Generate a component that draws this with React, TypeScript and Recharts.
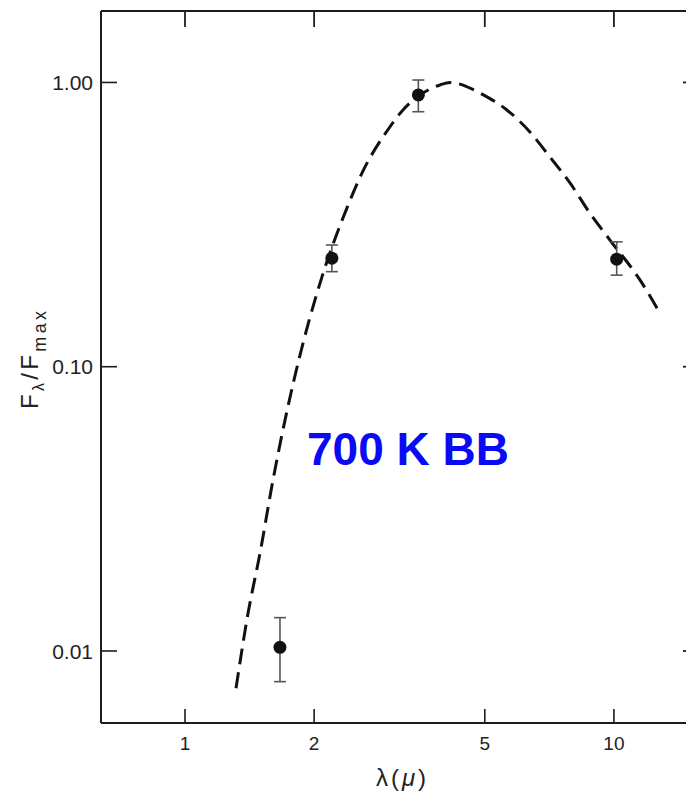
import { ComposedChart, ErrorBar, Label, Line, ReferenceLine, Scatter, XAxis, YAxis } from 'recharts'

// blackbody curve, traced as (wavelength in micron, relative flux)
const curveLambda = [1.315, 1.403, 1.496, 1.604, 1.795, 2.086, 2.386, 2.586, 2.958, 3.223, 3.5, 3.93, 4.15, 4.69, 4.87, 5.63, 6.37, 7.09, 7.9, 8.79, 9.79, 11.5, 12.8]
const curveFlux = [0.0074, 0.0136, 0.0221, 0.04, 0.0898, 0.207, 0.362, 0.48, 0.675, 0.8, 0.895, 0.98, 1.0, 0.945, 0.918, 0.8, 0.67, 0.547, 0.443, 0.347, 0.279, 0.202, 0.1545]

// photometry with error ranges
const obsLambda = [1.665, 2.2, 3.5, 10.15]
const obsFlux = [0.0103, 0.241, 0.904, 0.239]
const obsLow = [0.0078, 0.216, 0.789, 0.21]
const obsHigh = [0.0131, 0.268, 1.02, 0.275]

const xTicks = [1, 2, 5, 10]
const yTicks = [0.01, 0.1, 1]
const yTickLabels = ['0.01', '0.10', '1.00']

const X_DOMAIN: [number, number] = [0.637, 15.79]
const Y_DOMAIN: [number, number] = [0.00558, 1.784]

const ink = '#1c1c1c'
const font = '"Liberation Sans", Arial, sans-serif'

const curve = curveLambda.map((lambda, i) => ({ lambda, flux: curveFlux[i] }))
const points = obsLambda.map((lambda, i) => ({
  lambda,
  flux: obsFlux[i],
  err: [obsFlux[i] - obsLow[i], obsHigh[i] - obsFlux[i]],
}))

function BottomTickLabel({ x, y, payload }: any) {
  return (
    <text x={x} y={y} textAnchor="middle" fontSize={19} fill="#222" fontFamily={font}>
      {payload.value}
    </text>
  )
}

function LeftTickLabel({ x, y, payload }: any) {
  const idx = yTicks.indexOf(payload.value)
  return (
    <text x={x} y={y} dy="0.36em" textAnchor="end" fontSize={21} fill="#222" fontFamily={font}>
      {yTickLabels[idx] ?? payload.value}
    </text>
  )
}

// inward tick on the top frame, cut from the top end of a vertical reference line
function TopFrameTick({ x1, y1, y2 }: any) {
  const top = Math.min(y1, y2)
  return <path d={`M${x1},${top}L${x1},${top + 16}`} stroke={ink} strokeWidth={1.8} fill="none" />
}

// inward tick on the right frame, cut from the right end of a horizontal reference line
function RightFrameTick({ x1, x2, y1 }: any) {
  const right = Math.max(x1, x2)
  return <path d={`M${right},${y1}L${right - 16},${y1}`} stroke={ink} strokeWidth={1.8} fill="none" />
}

function Dot({ cx, cy }: any) {
  return <circle cx={cx} cy={cy} r={6.5} fill="#111" />
}

function XTitle() {
  return (
    <text x={401} y={786} textAnchor="middle" fontSize={24} fill="#222" fontFamily={font} textLength={50} lengthAdjust="spacing">
      λ(<tspan fontStyle="italic">μ</tspan>)
    </text>
  )
}

function YTitle() {
  return (
    <text
      transform="translate(38 360) rotate(-90)"
      textAnchor="middle"
      fontSize={24}
      fill="#222"
      fontFamily={font}
      textLength={98}
      lengthAdjust="spacing"
    >
      F
      <tspan fontSize={16} dy={6}>λ</tspan>
      <tspan dy={-6}>/F</tspan>
      <tspan fontSize={18} dy={8}>max</tspan>
    </text>
  )
}

function CurveTag() {
  return (
    <text x={307} y={465} fontSize={46} fontWeight="bold" fill="#0a0af5" fontFamily={font}>
      700 K BB
    </text>
  )
}

export default function App() {
  return (
    <div style={{ position: 'fixed', left: 0, top: 0, width: 686, height: 792, overflow: 'hidden', background: '#fff' }}>
      <ComposedChart width={720} height={792} margin={{ top: 0, right: 0, bottom: 0, left: 0 }}>
        {/* ticks point into the plot: negative tickSize, labels pushed back out with tickMargin */}
        <XAxis
          xAxisId="bottom"
          dataKey="lambda"
          type="number"
          scale="log"
          domain={X_DOMAIN}
          allowDataOverflow
          ticks={xTicks}
          interval={0}
          height={69}
          tickSize={-14}
          tickMargin={41}
          tickLine={{ stroke: ink, strokeWidth: 1.6 }}
          tick={<BottomTickLabel />}
          axisLine={{ stroke: ink, strokeWidth: 2 }}
        >
          <Label content={<XTitle />} />
        </XAxis>
        {/* top and right frame lines */}
        <XAxis
          xAxisId="top"
          orientation="top"
          type="number"
          scale="log"
          domain={X_DOMAIN}
          allowDataOverflow
          height={11}
          tick={false}
          tickLine={false}
          axisLine={{ stroke: ink, strokeWidth: 2 }}
        />
        <YAxis
          yAxisId="left"
          dataKey="flux"
          type="number"
          scale="log"
          domain={Y_DOMAIN}
          allowDataOverflow
          ticks={yTicks}
          interval={0}
          width={101}
          tickSize={-16}
          tickMargin={24}
          tickLine={{ stroke: ink, strokeWidth: 1.6 }}
          tick={<LeftTickLabel />}
          axisLine={{ stroke: ink, strokeWidth: 2 }}
        >
          <Label content={<YTitle />} />
        </YAxis>
        <YAxis
          yAxisId="right"
          orientation="right"
          type="number"
          scale="log"
          domain={Y_DOMAIN}
          allowDataOverflow
          width={21}
          tick={false}
          tickLine={false}
          axisLine={{ stroke: ink, strokeWidth: 2 }}
        >
          <Label content={<CurveTag />} />
        </YAxis>
        {xTicks.map((v) => (
          <ReferenceLine key={`tx${v}`} xAxisId="bottom" yAxisId="left" x={v} shape={TopFrameTick} />
        ))}
        {yTicks.map((v) => (
          <ReferenceLine key={`ty${v}`} xAxisId="bottom" yAxisId="left" y={v} shape={RightFrameTick} />
        ))}
        <Line
          xAxisId="bottom"
          yAxisId="left"
          data={curve}
          dataKey="flux"
          type="monotone"
          stroke="#111"
          strokeWidth={3}
          strokeDasharray="16 8"
          dot={false}
          activeDot={false}
          isAnimationActive={false}
        />
        <Scatter
          xAxisId="bottom"
          yAxisId="left"
          data={points}
          dataKey="flux"
          shape={<Dot />}
          isAnimationActive={false}
        >
          <ErrorBar dataKey="err" direction="y" width={6} stroke="#555" strokeWidth={1.6} isAnimationActive={false} />
        </Scatter>
      </ComposedChart>
    </div>
  )
}
